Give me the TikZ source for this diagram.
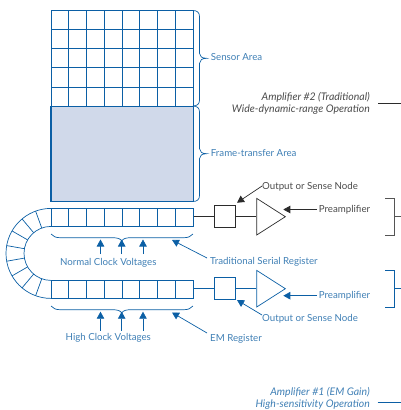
\documentclass[tikz,border=0pt]{standalone}
\usepackage{fontspec}
\setmainfont{Lato}
\usetikzlibrary{arrows.meta,shapes.geometric}
\definecolor{ccdblue}{HTML}{0B5FA5}
\definecolor{labelblue}{HTML}{3F7FB5}
\definecolor{framefill}{HTML}{D0D9EA}
\definecolor{ampdark}{HTML}{2B2B2B}
\definecolor{labeldark}{HTML}{4A4A4A}
\tikzset{
  bluewire/.style={draw=ccdblue,line width=0.7},
  darkwire/.style={draw=ampdark,line width=0.7},
  bluearrow/.style={bluewire,-{Triangle[length=7,width=7.5]}},
  darkarrow/.style={darkwire,-{Triangle[length=7,width=7.5]}},
  bluelabel/.style={text=labelblue,font=\fontsize{9.7}{11}\selectfont,inner sep=0},
  darklabel/.style={text=labeldark,font=\fontsize{9.7}{11}\selectfont,inner sep=0},
  modefont/.style={font=\fontsize{10.5}{12}\itshape\selectfont},
  regbox/.style={bluewire,minimum width=142,minimum height=18,inner sep=0,anchor=north west},
  sensebox/.style={minimum width=21.7,minimum height=22,inner sep=0},
  ampshape/.style={isosceles triangle,isosceles triangle stretches,minimum width=36.7,
    minimum height=28.7,inner sep=0,anchor=lower side},
}
\begin{document}
\begin{tikzpicture}[x=1pt,y=-1pt]
  \def\sidebrace#1#2#3{
    \draw[bluewire] (193,#1) .. controls (197,#1) and (199.5,#1+2) .. (199.5,#1+6)
    -- (199.5,#2-5) .. controls (199.5,#2-2) and (202,#2) .. (206.5,#2)
    .. controls (202,#2) and (199.5,#2+2) .. (199.5,#2+5)
    -- (199.5,#3-6) .. controls (199.5,#3-2) and (197,#3) .. (193,#3);
  }
  \def\lowbrace#1{
    \draw[bluewire] (51,#1) .. controls (53,#1+2.5) and (56,#1+3.7) .. (60,#1+3.7)
    -- (112,#1+3.7) .. controls (117,#1+3.7) and (120.5,#1+4.5) .. (121.7,#1+7)
    .. controls (123,#1+4.5) and (126.5,#1+3.7) .. (131,#1+3.7)
    -- (184,#1+3.7) .. controls (188,#1+3.7) and (191,#1+2.5) .. (193,#1);
  }
  \def\regcells#1#2{
    \foreach \i in {1,...,7}
      \draw[bluewire] (51+17.75*\i,#1) -- (51+17.75*\i,#2);
  }
  \useasboundingbox (0,0) rectangle (401,410);

  %%% sensor area
  \draw[bluewire] (51,10.5) rectangle (193,106);
  \foreach \i in {1,...,7}
    \draw[bluewire] (51+17.75*\i,10.5) -- (51+17.75*\i,106);
  \foreach \i in {1,...,4}
    \draw[bluewire] (51,10.5+19.1*\i) -- (193,10.5+19.1*\i);
  \sidebrace{10.5}{58.3}{106}
  \node[bluelabel,anchor=west] (sensorlabel) at (210.7,57.3) {Sensor Area};

  %%% frame-transfer area
  \draw[bluewire,fill=framefill] (51,106) rectangle (193,201.5);
  \draw[ccdblue,line width=1.4] (51,106) -- (51,201.5);
  \sidebrace{106}{153.7}{201.5}
  \node[bluelabel,anchor=west] (framelabel) at (210.7,152.7) {Frame-transfer Area};

  %%% curved section
  \draw[bluewire] (51,208.4) arc (270:90:45);
  \draw[bluewire] (51,226.4) arc (270:90:27);
  \foreach \a in {110,130,...,250}
    \draw[bluewire] (51,253.4)+(\a:27) -- +(\a:45);

  %%% traditional register
  \node[regbox] (regtop) at (51,208.4) {};
  \regcells{208.4}{226.4}
  \lowbrace{234}
  \node[bluelabel] (normallabel) at (108.3,262.7) {Normal Clock Voltages};
  \foreach \x/\n in {100.5/a,121.7/b,143/c}{
    \coordinate (normal\n) at (\x,254);
    \coordinate (normaltip\n) at (\x,239.5);
    \draw[bluearrow] (normal\n) -- (normaltip\n);
  }
  \node[bluelabel,anchor=west] (tsrlabel) at (210,262) {Traditional Serial Register};
  \coordinate (tsrtail) at (207,258);
  \coordinate (tsrtip) at (172,240);
  \draw[bluearrow] (tsrtail) -- (tsrtip);

  %%% EM register
  \node[regbox] (regbot) at (51,280.4) {};
  \regcells{280.4}{298.4}
  \lowbrace{306}
  \node[bluelabel] (highlabel) at (108.3,338.3) {High Clock Voltages};
  \foreach \x/\n in {100.5/a,121.7/b,143/c}{
    \coordinate (high\n) at (\x,330.7);
    \coordinate (hightip\n) at (\x,311.7);
    \draw[bluearrow] (high\n) -- (hightip\n);
  }
  \node[bluelabel,anchor=west] (emlabel) at (210,339) {EM Register};
  \coordinate (emtail) at (207,333);
  \coordinate (emtip) at (172,312.5);
  \draw[bluearrow] (emtail) -- (emtip);

  %%% amplifier 2
  \node[sensebox,draw=ampdark,line width=0.7] (sensetop) at (224.85,215.9) {};
  \node[ampshape,draw=ampdark,line width=0.7] (amptop) at (256.3,216.7) {};
  \draw[darkwire] (regtop.east |- sensetop.west) -- (sensetop.west);
  \draw[darkwire] (sensetop.east) -- (amptop.lower side |- sensetop.east);
  \node[darklabel,anchor=west] (sensetoplabel) at (262,186.7) {Output or Sense Node};
  \coordinate (sensetoptail) at (262,186);
  \coordinate (sensetoptip) at (237,202.7);
  \draw[darkarrow] (sensetoptail) -- (sensetoptip);
  \node[darklabel,anchor=west] (preamptop) at (318.7,209.5) {Preamplifier};
  \coordinate (preamptoptip) at (283.3,209.5);
  \draw[darkarrow] (preamptop.west) ++(-1.5,0) -- (preamptoptip);

  %%% amplifier 1
  \node[sensebox,bluewire] (sensebot) at (224.85,287.9) {};
  \node[ampshape,bluewire] (ampbot) at (256.3,288.7) {};
  \draw[bluewire] (regbot.east |- sensebot.west) -- (sensebot.west);
  \draw[bluewire] (sensebot.east) -- (ampbot.lower side |- sensebot.east);
  \node[bluelabel,anchor=west] (sensebotlabel) at (262,318.7) {Output or Sense Node};
  \coordinate (sensebottail) at (262,315);
  \coordinate (sensebottip) at (237,300);
  \draw[bluearrow] (sensebottail) -- (sensebottip);
  \node[bluelabel,anchor=west] (preampbot) at (318.7,295.7) {Preamplifier};
  \coordinate (preampbottip) at (283.3,295.7);
  \draw[bluearrow] (preampbot.west) ++(-1.5,0) -- (preampbottip);

  %%% brackets
  \draw[draw=ampdark!80,line width=0.7] (385,198.3) -- (394,198.3) -- (394,235.7) -- (385,235.7)
  (394,216.7) -- (401,216.7);
  \draw[bluewire] (385,270.3) -- (394,270.3) -- (394,307.3) -- (385,307.3)
  (394,288.7) -- (401,288.7);

  %%% operating modes
  \node[darklabel,anchor=east,modefont] (mode2a) at (370,97.7) {Amplifier \#2 (Traditional)};
  \node[darklabel,anchor=east,modefont] (mode2b) at (370,109.7) {Wide-dynamic-range Operation};
  \draw[darkwire] (378.3,103.3) -- (401,103.3);
  \node[bluelabel,anchor=east,modefont] (mode1a) at (370,392.5) {Amplifier \#1 (EM Gain)};
  \node[bluelabel,anchor=east,modefont] (mode1b) at (370,404.3) {High-sensitivity Operation};
  \draw[bluewire] (377.7,402.3) -- (401,402.3);
\end{tikzpicture}
\end{document}
